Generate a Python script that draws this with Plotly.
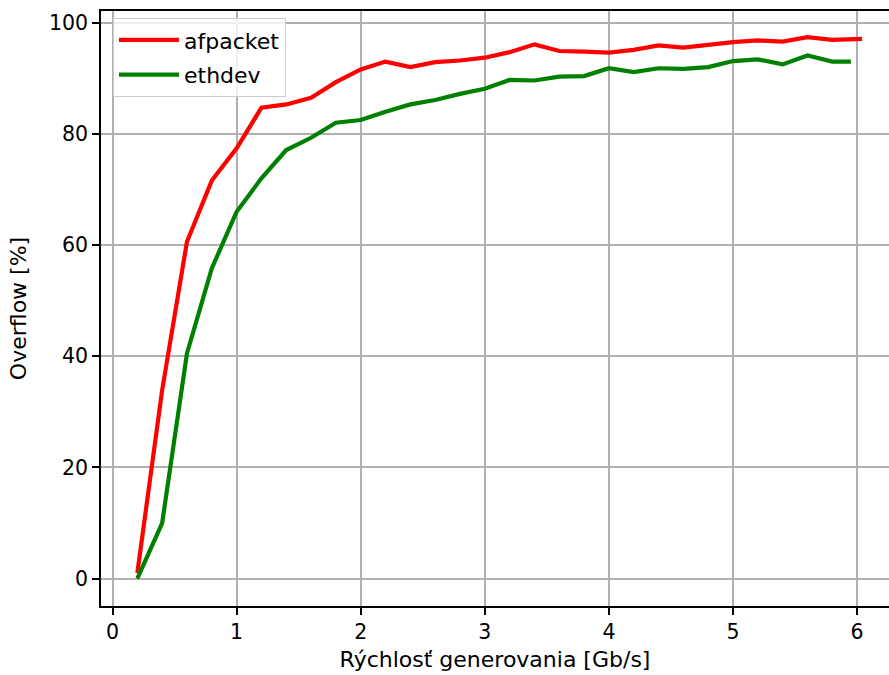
import plotly.graph_objects as go

# Data
x_af = [0.2, 0.4, 0.6, 0.8, 1.0, 1.2, 1.4, 1.6, 1.8, 2.0, 2.2, 2.4, 2.6, 2.8, 3.0,
        3.2, 3.4, 3.6, 3.8, 4.0, 4.2, 4.4, 4.6, 4.8, 5.0, 5.2, 5.4, 5.6, 5.8, 6.04]
y_af = [1.0, 33.9, 60.6, 71.6, 77.4, 84.7, 85.3, 86.5, 89.3, 91.6, 93.0, 92.0, 92.9, 93.2, 93.7,
        94.7, 96.1, 94.9, 94.8, 94.6, 95.1, 95.9, 95.5, 96.0, 96.5, 96.8, 96.6, 97.4, 96.9, 97.1]

x_eth = [0.2, 0.4, 0.6, 0.8, 1.0, 1.2, 1.4, 1.6, 1.8, 2.0, 2.2, 2.4, 2.6, 2.8, 3.0,
         3.2, 3.4, 3.6, 3.8, 4.0, 4.2, 4.4, 4.6, 4.8, 5.0, 5.2, 5.4, 5.6, 5.8, 5.95]
y_eth = [0.0, 10.0, 40.5, 55.8, 66.0, 72.0, 77.1, 79.3, 82.0, 82.5, 84.0, 85.3, 86.1, 87.2, 88.1,
         89.7, 89.6, 90.3, 90.4, 91.8, 91.1, 91.8, 91.7, 92.0, 93.1, 93.4, 92.5, 94.1, 93.0, 93.0]

x_ticks = [0, 1, 2, 3, 4, 5, 6]
y_ticks = [0, 20, 40, 60, 80, 100]

FONT = "DejaVu Sans"

fig = go.Figure()
fig.add_trace(go.Scatter(x=x_af, y=y_af, mode="lines", name="afpacket",
                         legendgroup="a",
                         line=dict(color="#ff0000", width=4.2)))
fig.add_trace(go.Scatter(x=x_eth, y=y_eth, mode="lines", name="ethdev",
                         legendgroup="b",
                         line=dict(color="#008000", width=4.2)))

axis_common = dict(
    showgrid=True, gridcolor="#b0b0b0", gridwidth=1.6,
    zeroline=False,
    showline=True, linecolor="black", linewidth=1.6,
    ticks="outside", ticklen=7, tickwidth=1.6, tickcolor="black",
    tickfont=dict(family=FONT, size=20.5, color="black"),
)

fig.update_xaxes(
    range=[-0.0927, 6.257], tickvals=x_ticks, ticktext=[str(v) for v in x_ticks],
    mirror=True,
    title=dict(text="Rýchlosť generovania [Gb/s]",
               font=dict(family=FONT, size=22, color="black"), standoff=8),
    **axis_common,
)
fig.update_yaxes(
    range=[-4.91, 102.1], tickvals=y_ticks, ticktext=[str(v) for v in y_ticks],
    title=dict(text="Overflow [%]",
               font=dict(family=FONT, size=22, color="black"), standoff=16),
    **axis_common,
)

fig.update_layout(
    width=889, height=675,
    margin=dict(l=101, r=0, t=11, b=69, autoexpand=False),
    paper_bgcolor="white", plot_bgcolor="white",
    font=dict(family=FONT, color="black"),
    showlegend=True,
    legend=dict(
        x=0.0152, y=0.988, xanchor="left", yanchor="top",
        bgcolor="rgba(255,255,255,0.8)", bordercolor="#cccccc", borderwidth=1,
        font=dict(family=FONT, size=22, color="black"),
        tracegroupgap=3, itemwidth=60,
    ),
)

fig.write_html("out.html")
